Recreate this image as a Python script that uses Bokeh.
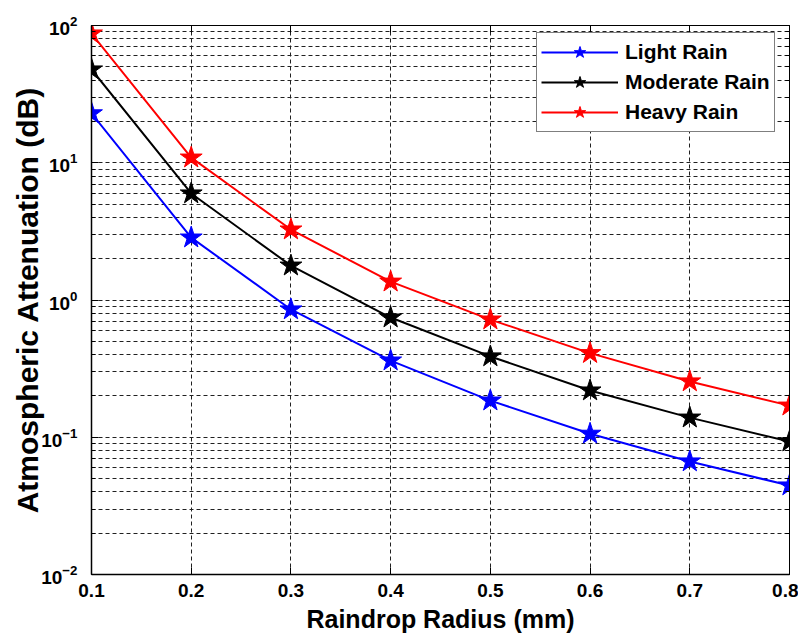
from bokeh.plotting import figure
from bokeh.models import (FixedTicker, LinearAxis, LogAxis, Legend, LegendItem,
                          LogTickFormatter, CustomJSTickFormatter)
from bokeh.embed import file_html
from bokeh.resources import INLINE

radius = [0.1, 0.2, 0.3, 0.4, 0.5, 0.6, 0.7, 0.8]
light_rain = [22.9, 2.85, 0.853, 0.362, 0.185, 0.106, 0.0666, 0.0445]
moderate_rain = [47.8, 5.97, 1.78, 0.745, 0.388, 0.219, 0.139, 0.093]
heavy_rain = [87.4, 10.9, 3.26, 1.36, 0.72, 0.41, 0.255, 0.17]

x_ticks = [0.1, 0.2, 0.3, 0.4, 0.5, 0.6, 0.7, 0.8]
y_major = [0.01, 0.1, 1, 10, 100]
y_minor = [m * d for d in [0.01, 0.1, 1, 10] for m in range(2, 10)]

FONT = "Liberation Sans"
GRID = "#202020"

p = figure(width=798, height=636, y_axis_type="log",
           x_range=(0.1, 0.8), y_range=(0.01, 100),
           output_backend="svg", toolbar_location=None,
           min_border_left=91, min_border_right=9,
           min_border_top=25, min_border_bottom=62)

xt = FixedTicker(ticks=x_ticks, minor_ticks=[])
yt = FixedTicker(ticks=y_major, minor_ticks=y_minor)
p.xaxis.ticker = xt
p.yaxis.ticker = yt

p.outline_line_color = "black"
p.outline_line_width = 1
p.outline_line_alpha = 1

p.xgrid.grid_line_color = GRID
p.xgrid.grid_line_dash = "4 3"
p.xgrid.grid_line_width = 1
p.ygrid.grid_line_color = GRID
p.ygrid.grid_line_dash = "4 3"
p.ygrid.grid_line_width = 1
p.ygrid.minor_grid_line_color = GRID
p.ygrid.minor_grid_line_dash = "4 3"
p.ygrid.minor_grid_line_width = 1

for ax in (p.xaxis[0], p.yaxis[0]):
    ax.axis_line_color = "black"
    ax.axis_line_width = 1.5
    ax.major_tick_in = 7
    ax.major_tick_out = 0
    ax.minor_tick_in = 4
    ax.minor_tick_out = 0
    ax.major_tick_line_color = "black"
    ax.minor_tick_line_color = "black"
    ax.major_label_text_font = FONT
    ax.major_label_text_font_style = "bold"
    ax.major_label_text_font_size = "19px"
    ax.major_label_text_color = "black"
    ax.axis_label_text_font = FONT
    ax.axis_label_text_font_style = "bold"
    ax.axis_label_text_color = "black"

p.xaxis.axis_label = "Raindrop Radius (mm)"
p.xaxis.axis_label_text_font_size = "25px"
p.xaxis.major_label_standoff = 9
p.xaxis.axis_label_standoff = 5

p.yaxis.axis_label = "Atmospheric Attenuation (dB)"
p.yaxis.axis_label_text_font_size = "30px"
p.yaxis.major_label_standoff = 14
p.yaxis.axis_label_standoff = -6
p.yaxis.formatter = LogTickFormatter()

top = LinearAxis(ticker=xt, formatter=CustomJSTickFormatter(code="return ''"),
                 major_label_standoff=0,
                 major_tick_in=7, major_tick_out=0, minor_tick_in=0, minor_tick_out=0,
                 axis_line_color="black", major_tick_line_color="black")
right = LogAxis(ticker=yt, formatter=CustomJSTickFormatter(code="return ''"),
                major_label_standoff=0,
                major_tick_in=7, major_tick_out=0, minor_tick_in=4, minor_tick_out=0,
                axis_line_color="black", major_tick_line_color="black",
                minor_tick_line_color="black")
p.add_layout(top, "above")
p.add_layout(right, "right")

items = []
for label, ys, color in [("Light Rain", light_rain, "#0000ff"),
                         ("Moderate Rain", moderate_rain, "#000000"),
                         ("Heavy Rain", heavy_rain, "#ff0000")]:
    ln = p.line(radius, ys, line_color=color, line_width=2)
    sc = p.scatter(radius, ys, marker="star", size=23, fill_color=color,
                   line_color=color, line_width=1)
    items.append(LegendItem(label=label, renderers=[ln, sc]))

legend = Legend(items=items, location=(445, 442), margin=0, padding=4,
                spacing=0, glyph_width=77, glyph_height=30, label_height=30,
                label_standoff=7, border_line_color="black", border_line_width=1,
                background_fill_color="white", background_fill_alpha=1,
                label_text_font=FONT, label_text_font_style="bold",
                label_text_font_size="21px", label_text_color="black")
p.add_layout(legend)

open("out.html", "w").write(file_html(p, INLINE))
